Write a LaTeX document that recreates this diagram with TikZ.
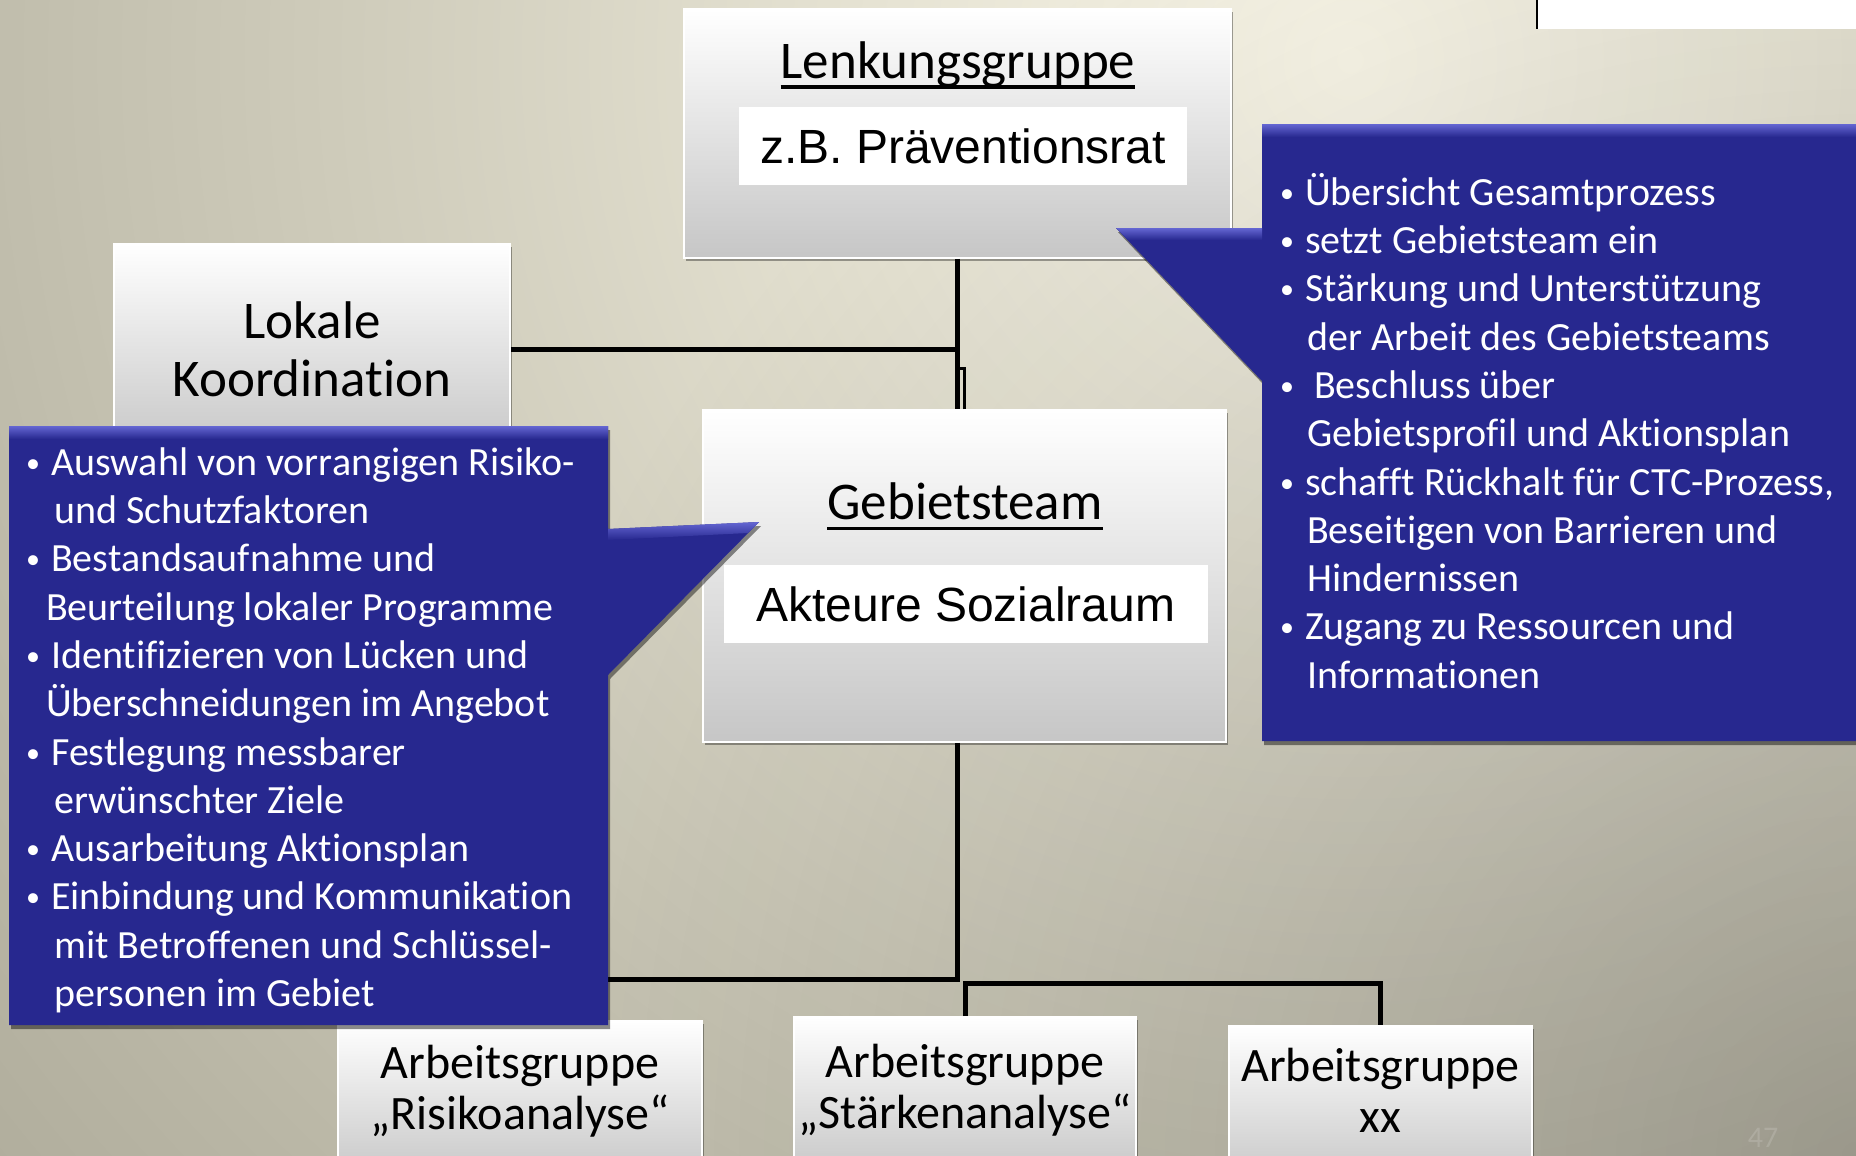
\documentclass[tikz,border=0pt]{standalone}
\usepackage{fontspec}
\setmainfont{Carlito}[Ligatures={TeX,NoCommon,NoContextual}]
\newfontfamily\arialfont{Liberation Sans}
\usepackage{tikz}
\usetikzlibrary{calc, shadows, fadings, positioning}

\definecolor{bgA}{RGB}{248,245,231}
\definecolor{bgB}{RGB}{230,227,211}
\definecolor{bgC}{RGB}{206,203,186}
\definecolor{bgD}{RGB}{184,181,164}
\definecolor{bgE}{RGB}{166,163,146}
\definecolor{bgF}{RGB}{148,145,128}
\definecolor{ctcblue}{RGB}{39,40,143}
\definecolor{ctclight}{RGB}{100,102,210}
\definecolor{boxgray}{RGB}{198,198,198}

\pgfdeclareradialshading{slidebg}{\pgfpoint{0bp}{0bp}}{color(0bp)=(bgA); color(4bp)=(bgB); color(8.5bp)=(bgC); color(13bp)=(bgD); color(17bp)=(bgE); color(22bp)=(bgF); color(50bp)=(bgF)}
\tikzfading[name=cornerdark, inner color=transparent!78, outer color=transparent!100]

\newcommand{\bul}{\makebox[29pt][l]{\hspace{4pt}\raisebox{3pt}{\fontsize{28}{28}\selectfont •}}}
\newcommand{\ulhead}[1]{\setbox0\hbox{#1}\rlap{\rule[-11pt]{\wd0}{3.5pt}}\box0}

\tikzset{
  orgbox/.style={rectangle, inner sep=0pt, top color=white, bottom color=boxgray, draw=white, line width=1.5pt, drop shadow={shadow xshift=2pt, shadow yshift=-3pt, opacity=.35, fill=black}},
  headtext/.style={anchor=base, inner sep=0pt, font=\fontsize{53}{58}\selectfont},
  subtext/.style={fill=white, inner sep=0pt, text height=34pt, text depth=0pt, font=\arialfont\fontsize{48}{52}\selectfont},
  agtext/.style={align=center, inner sep=0pt, font=\fontsize{48}{51}\selectfont},
  calltext/.style={anchor=north west, align=left, inner sep=0pt, text=white, font=\fontsize{40}{48.3}\selectfont},
  conn/.style={line width=5pt, black},
  callout/.style={fill=ctcblue, drop shadow={shadow xshift=2pt, shadow yshift=-4pt, opacity=.45, fill=black}},
  bevel/.style={top color=ctclight, bottom color=ctcblue}
}

\begin{document}
\begin{tikzpicture}[x=1pt, y=-1pt]
\useasboundingbox (0,0) rectangle (1856,1156);

% background
\begin{scope}
  \clip (0,0) rectangle (1856,1156);
  \shade[shading=slidebg] (1350,60) circle (3000);
  \fill[black, path fading=cornerdark] (1856,1156) circle (1400);
\end{scope}
\fill[white] (1537,0) rectangle (1856,29);
\draw[line width=1.5pt] (1537,0) -- (1537,29);

\coordinate (yTop) at (0,368);
\coordinate (yBusL) at (0,979);
\coordinate (yBusR) at (0,983);

% boxes
\node[orgbox, minimum width=547pt, minimum height=249pt] (lenk) at (957.5,133.5) {};
\node[orgbox, minimum width=396pt, minimum height=210pt, align=center, font=\fontsize{53}{58}\selectfont] (lokal) at (312,349) {Lokale\\Koordination};
\node[orgbox, minimum width=523pt, minimum height=332pt] (gebiet) at (964.5,576) {};
\node[orgbox, anchor=north, minimum width=364pt, minimum height=160pt] (risk) at (520,1020) {};
\node[orgbox, anchor=north, minimum width=342pt, minimum height=160pt] (staerk) at (965,1016) {};
\node[orgbox, anchor=north, minimum width=303pt, minimum height=160pt] (xx) at (1380.5,1025) {};

\node[headtext] (lenkT) at (958,78) {\ulhead{Lenkungsgruppe}};
\node[subtext, minimum width=448pt, minimum height=78pt] (lenkS) at (963,146) {z.B. Präventionsrat};
\node[headtext] (gebT) at (965,519) {\ulhead{Gebietsteam}};
\node[subtext, minimum width=484pt, minimum height=78pt] (gebS) at (966,604) {Akteure Sozialraum};
\node[agtext] (riskT) at ($(risk.north)+(0,71)$) {Arbeitsgruppe\\„Risikoanalyse“};
\node[agtext] (staerkT) at ($(staerk.north)+(0,74)$) {Arbeitsgruppe\\„Stärkenanalyse“};
\node[agtext] (xxT) at ($(xx.north)+(0,65)$) {Arbeitsgruppe\\xx};

% connectors
\draw[conn] (lenk.south) -- (lenk.south |- gebiet.north);
\draw[conn, line width=3pt] (gebiet.north) |- (lenk.south |- yTop);
\draw[conn] (lokal.east) -- (lokal.east -| lenk.south);
\draw[conn] (gebiet.south -| lenk.south) |- (risk.north |- yBusL) -- (risk.north);
\draw[conn] (staerk.north) |- (xx.north |- yBusR) -- (xx.north);

% callouts
\fill[callout] (9,426) -- (608,426) -- (608,529) -- (759,522) -- (608,675) -- (608,1025) -- (9,1025) -- cycle;
\shade[bevel] (9,426) rectangle (608,439);
\shade[bevel] (608,529) -- (759,522) -- (748,533) -- (608,540) -- cycle;
\fill[callout] (1262,124) -- (1870,124) -- (1870,741) -- (1262,741) -- (1262,381) -- (1116,228) -- (1262,228) -- cycle;
\shade[bevel] (1262,124) rectangle (1870,137);
\shade[bevel] (1116,228) -- (1262,228) -- (1262,240) -- (1128,240) -- cycle;

\node[calltext] (gebTxt) at (22,441.2) {\strut\bul Auswahl von vorrangigen Risiko-\\
\hspace*{32pt}und Schutzfaktoren\\
\bul Bestandsaufnahme und\\
\hspace*{24pt}Beurteilung lokaler Programme\\
\bul Identifizieren von Lücken und\\
\hspace*{24pt}Überschneidungen im Angebot\\
\bul Festlegung messbarer\\
\hspace*{32pt}erwünschter Ziele\\
\bul Ausarbeitung Aktionsplan\\
\bul Einbindung und Kommunikation\\
\hspace*{32pt}mit Betroffenen und Schlüssel-\\
\hspace*{32pt}personen im Gebiet};

\node[calltext] (lenkTxt) at (1276,171.2) {\strut\bul Übersicht Gesamtprozess\\
\bul setzt Gebietsteam ein\\
\bul Stärkung und Unterstützung\\
\hspace*{31pt}der Arbeit des Gebietsteams\\
\bul\hspace*{9pt}Beschluss über\\
\hspace*{31pt}Gebietsprofil und Aktionsplan\\
\bul schafft Rückhalt für CTC-Prozess,\\
\hspace*{31pt}Beseitigen von Barrieren und\\
\hspace*{31pt}Hindernissen\\
\bul Zugang zu Ressourcen und\\
\hspace*{31pt}Informationen};

\node[text=white, opacity=.15, font=\fontsize{30}{36}\selectfont] (pgnum) at (1763,1138) {47};

\end{tikzpicture}
\end{document}
